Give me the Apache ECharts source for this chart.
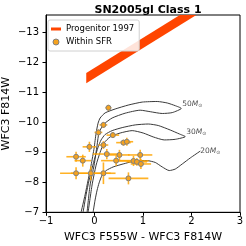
<!DOCTYPE html>
<html><head><meta charset="utf-8">
<script src="https://cdn.jsdelivr.net/npm/echarts@6/dist/echarts.min.js"></script>
<style>html,body{margin:0;padding:0;background:#fff}#c{width:246px;height:246px}</style>
</head><body><div id="c"></div>
<script>
// ---- data ----
const titleText = 'SN2005gl Class 1';
const xTicks = [-1, 0, 1, 2, 3];
const yTicks = [-13, -12, -11, -10, -9, -8, -7];

// Progenitor 1997 band (colour, bright edge, faint edge)
const bandColor = [-0.17, 2.4];
const bandBright = [-11.64, -14.21];
const bandFaint = [-11.30, -13.87];

// evolutionary tracks
const track50X = [-0.277,-0.194,-0.132,-0.07,-0.008,0.033,0.074,0.116,0.219,0.426,0.694,0.983,1.293,1.50,1.665,1.79,1.603,1.397,1.149,0.942,0.632,0.364,0.198,0.095,0.054,-0.008,-0.091,-0.153];
const track50Y = [-7.0,-7.58,-8.07,-8.57,-9.14,-9.64,-9.97,-10.14,-10.31,-10.44,-10.57,-10.67,-10.69,-10.64,-10.55,-10.46,-10.32,-10.29,-10.35,-10.40,-10.30,-10.14,-9.94,-9.67,-9.24,-8.57,-7.91,-7.0];
const track30X = [-0.236,-0.174,-0.112,-0.05,0.012,0.074,0.136,0.219,0.364,0.57,0.839,1.108,1.314,1.562,1.748,1.872,1.665,1.438,1.211,1.004,0.777,0.529,0.322,0.198,0.116,0.033,-0.05,-0.132];
const track30Y = [-7.0,-7.58,-8.07,-8.47,-8.84,-9.17,-9.41,-9.59,-9.72,-9.82,-9.91,-9.94,-9.89,-9.74,-9.61,-9.52,-9.43,-9.41,-9.51,-9.64,-9.72,-9.64,-9.51,-9.31,-9.0,-8.57,-7.91,-7.0];
const track20X = [-0.029,0.012,0.054,0.095,0.157,0.24,0.384,0.591,0.839,1.087,1.252,1.397,1.541,1.665,1.81,1.975,2.182];
const track20Y = [-7.0,-7.41,-7.74,-7.98,-8.24,-8.39,-8.51,-8.61,-8.71,-8.72,-8.66,-8.51,-8.39,-8.44,-8.61,-8.81,-9.04];

const labelX = [1.79, 1.87, 2.16];
const labelY = [-10.6, -9.67, -9.04];
const labelMass = ['50', '30', '20'];

// sources within the star-forming region
const sfrX    = [0.287,0.184,0.081,0.378,0.597,0.667,-0.105,0.184,-0.38,-0.242,0.254,0.514,0.446,0.942,0.804,0.874,0.957,-0.38,-0.076,0.184,0.70];
const sfrY    = [-10.48,-9.91,-9.66,-9.57,-9.32,-9.35,-9.18,-9.24,-8.85,-8.72,-8.94,-8.91,-8.72,-8.91,-8.71,-8.68,-8.61,-8.30,-8.30,-8.30,-8.13];
const sfrXErr = [0.06,0.08,0.08,0.13,0.15,0.13,0.14,0.10,0.20,0.17,0.29,0.21,0.31,0.25,0.31,0.21,0.21,0.33,0.41,0.25,0.41];
const sfrYErr = [0.10,0.10,0.10,0.10,0.10,0.13,0.17,0.13,0.17,0.20,0.17,0.17,0.17,0.17,0.17,0.13,0.17,0.20,0.23,0.36,0.20];

// ---- build ----
const zip = (a, b) => a.map((v, i) => [v, b[i]]);
const minus = v => (v < 0 ? '\u2212' + Math.abs(v) : String(v));
const FONT = 'DejaVu Sans';

const chart = echarts.init(document.getElementById('c'), null, {renderer: 'canvas'});

const trackSeries = (name, xs, ys) => ({
  name, type: 'line', data: zip(xs, ys), showSymbol: false, symbol: 'none', smooth: 0.2,
  lineStyle: {color: '#3a3a3a', width: 1}, z: 3, silent: true, animation: false
});

chart.setOption({
  animation: false,
  title: {
    text: titleText, left: 143, top: 0, textAlign: 'center',
    textStyle: {fontFamily: FONT, fontSize: 11, fontWeight: 'bold', color: '#000'}
  },
  legend: {
    left: 48, top: 20, orient: 'vertical',
    backgroundColor: 'rgba(255,255,255,0.85)', borderColor: '#d0d0d0', borderWidth: 1, borderRadius: 2,
    padding: [4, 5, 4, 3], itemGap: 3, itemWidth: 10, itemHeight: 6,
    textStyle: {fontFamily: FONT, fontSize: 8.5, color: '#000', lineHeight: 10},
    data: [
      {name: 'Progenitor 1997', icon: 'path://M0,0 H10 V3 H0 Z', itemStyle: {color: '#FF4500'}},
      {name: 'Within SFR', icon: 'circle', itemStyle: {color: '#F5A21E', borderColor: '#808080', borderWidth: 1}}
    ]
  },
  grid: {left: 46, right: 6, top: 15, bottom: 33.7, outerBoundsMode: 'none', containLabel: false,
         show: true, borderColor: '#000', borderWidth: 1, backgroundColor: 'transparent'},
  xAxis: {
    type: 'value', min: -1, max: 3, interval: 1,
    name: 'WFC3 F555W - WFC3 F814W', nameLocation: 'middle', nameGap: 19, nameMoveOverlap: false,
    nameTextStyle: {fontFamily: FONT, fontSize: 11, color: '#000'},
    axisLine: {show: true, onZero: false, lineStyle: {color: '#000', width: 1}},
    axisTick: {show: true, inside: false, length: 3.5, lineStyle: {color: '#000'}},
    axisLabel: {fontFamily: FONT, fontSize: 10, color: '#000', margin: 4, formatter: minus, customValues: xTicks},
    splitLine: {show: false}
  },
  yAxis: {
    type: 'value', min: -13.57, max: -7, inverse: true,
    name: 'WFC3 F814W', nameLocation: 'middle', nameGap: 34, nameRotate: 90, nameMoveOverlap: false,
    nameTextStyle: {fontFamily: FONT, fontSize: 11, color: '#000'},
    axisLine: {show: true, onZero: false, lineStyle: {color: '#000', width: 1}},
    axisTick: {show: true, inside: false, length: 3.5, lineStyle: {color: '#000'}, customValues: yTicks},
    axisLabel: {fontFamily: FONT, fontSize: 10, color: '#000', margin: 7, formatter: minus, customValues: yTicks},
    splitLine: {show: false}
  },
  series: [
    {
      name: 'Progenitor 1997', type: 'custom', clip: true, z: 2,
      itemStyle: {color: '#FF4500'},
      data: [[bandColor[0], bandBright[0]]],
      renderItem: (params, api) => {
        const pts = [];
        for (let i = 0; i < bandColor.length; i++) pts.push(api.coord([bandColor[i], bandBright[i]]));
        for (let i = bandColor.length - 1; i >= 0; i--) pts.push(api.coord([bandColor[i], bandFaint[i]]));
        return {type: 'polygon', shape: {points: pts}, style: {fill: '#FF4500'}};
      }
    },
    {
      name: 'errors', type: 'custom', z: 4, silent: true,
      data: sfrX.map((x, i) => [x, sfrY[i], sfrXErr[i], sfrYErr[i]]),
      encode: {x: 0, y: 1},
      renderItem: (params, api) => {
        const x = api.value(0), y = api.value(1), ex = api.value(2), ey = api.value(3);
        const l = api.coord([x - ex, y]), r = api.coord([x + ex, y]);
        const t = api.coord([x, y - ey]), b = api.coord([x, y + ey]);
        const st = {stroke: 'rgba(255,165,0,0.85)', lineWidth: 1.6};
        return {type: 'group', children: [
          {type: 'line', shape: {x1: l[0], y1: l[1], x2: r[0], y2: r[1]}, style: st},
          {type: 'line', shape: {x1: t[0], y1: t[1], x2: b[0], y2: b[1]}, style: st}
        ]};
      }
    },
    trackSeries('M50', track50X, track50Y),
    trackSeries('M30', track30X, track30Y),
    trackSeries('M20', track20X, track20Y),
    {
      name: 'Within SFR', type: 'scatter', z: 6, symbol: 'circle', symbolSize: 5,
      itemStyle: {color: '#F5A21E', borderColor: '#808080', borderWidth: 1, opacity: 1},
      data: zip(sfrX, sfrY)
    },
    {
      name: 'trackLabels', type: 'scatter', z: 7, symbolSize: 0, silent: true,
      data: labelX.map((x, i) => ({value: [x, labelY[i]], mass: labelMass[i]})),
      label: {
        show: true, position: 'right', distance: 1,
        formatter: p => '{m|' + labelMass[p.dataIndex] + '}{i|M}{s|\u2299}',
        rich: {
          m: {fontFamily: FONT, fontSize: 7.5, color: '#222'},
          i: {fontFamily: FONT, fontSize: 7.5, fontStyle: 'italic', color: '#222'},
          s: {fontFamily: FONT, fontSize: 5, color: '#222', padding: [4, 0, 0, 0]}
        }
      }
    }
  ]
});
</script>
</body></html>
